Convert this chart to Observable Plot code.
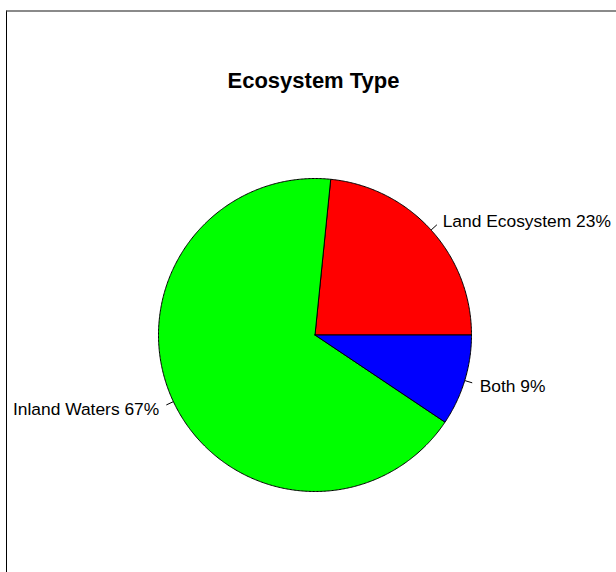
<!DOCTYPE html>
<html>
<head>
<meta charset="utf-8">
<script src="https://cdn.jsdelivr.net/npm/d3@7"></script>
<script src="https://cdn.jsdelivr.net/npm/@observablehq/plot@0.6"></script>
<style>
  html, body { margin: 0; padding: 0; background: #fff; }
  #wrap { position: relative; width: 616px; height: 572px; overflow: hidden; }
  #frame { position: absolute; left: 6px; top: 10px; width: 700px; height: 700px;
           border-left: 1px solid #000; border-top: 2px solid #8a8a8a; box-sizing: border-box; pointer-events: none; }
</style>
</head>
<body>
<div id="wrap"><div id="chart"></div><div id="frame"></div></div>
<script>
// Data
const title = "Ecosystem Type";
const categories = ["Land Ecosystem", "Inland Waters", "Both"];
const values = [23.4, 67.2, 9.4];
const colors = ["#FF0000", "#00FF00", "#0000FF"];

// Layout (pixels)
const W = 616, H = 572;
const cx = 314.5, cy = 334.5, R = 156.5;

const total = d3.sum(values);
const slices = [];
let acc = 0;
categories.forEach((c, i) => {
  const a0 = acc / total * 2 * Math.PI;
  acc += values[i];
  const a1 = acc / total * 2 * Math.PI;
  slices.push({cat: c, value: values[i], color: colors[i], a0, a1, mid: (a0 + a1) / 2,
    label: `${c} ${Math.round(values[i] / total * 100)}%`});
});

// polygon points for each slice (counter-clockwise from 3 o'clock, as R's pie)
const pts = [];
slices.forEach(s => {
  pts.push({cat: s.cat, color: s.color, x: 0, y: 0});
  const n = Math.max(2, Math.ceil((s.a1 - s.a0) / (Math.PI / 360)));
  for (let k = 0; k <= n; k++) {
    const a = s.a0 + (s.a1 - s.a0) * k / n;
    pts.push({cat: s.cat, color: s.color, x: Math.cos(a), y: Math.sin(a)});
  }
  pts.push({cat: s.cat, color: s.color, x: 0, y: 0});
});

const rightSide = slices.filter(d => Math.cos(d.mid) > 0);
const leftSide = slices.filter(d => Math.cos(d.mid) <= 0);
const labelOpts = {
  x: d => 1.1 * Math.cos(d.mid), y: d => 1.1 * Math.sin(d.mid),
  text: "label", lineAnchor: "middle", fontSize: 17.4, fill: "black", dy: 1.5
};

const chart = Plot.plot({
  width: W, height: H,
  margin: 0,
  x: {domain: [(0 - cx) / R, (W - cx) / R], axis: null},
  y: {domain: [-(H - cy) / R, cy / R], axis: null},
  color: {type: "identity"},
  style: {fontFamily: "'Liberation Sans', Arial, sans-serif", background: "white"},
  marks: [
    Plot.line(pts, {x: "x", y: "y", z: "cat", fill: "color", stroke: "black", strokeWidth: 1, curve: "linear"}),
    Plot.link(slices, {
      x1: d => Math.cos(d.mid), y1: d => Math.sin(d.mid),
      x2: d => 1.05 * Math.cos(d.mid), y2: d => 1.05 * Math.sin(d.mid),
      stroke: "black", strokeWidth: 1
    }),
    Plot.text(rightSide, {...labelOpts, textAnchor: "start"}),
    Plot.text(leftSide, {...labelOpts, textAnchor: "end"}),
    Plot.text([title], {
      frameAnchor: "top", dx: 5, dy: 80, lineAnchor: "middle",
      fontSize: 22, fontWeight: "bold", fill: "black"
    })
  ]
});
document.getElementById("chart").appendChild(chart);
</script>
</body>
</html>
